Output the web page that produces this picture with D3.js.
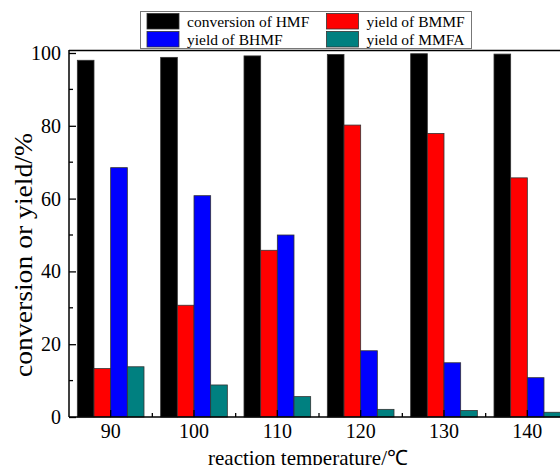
<!DOCTYPE html>
<html>
<head>
<meta charset="utf-8">
<script src="https://cdn.jsdelivr.net/npm/d3@7"></script>
<style>
  body { margin: 0; background: #fff; }
  text { font-family: "Liberation Serif", "Times New Roman", serif; }
</style>
</head>
<body>
<div id="chart"></div>
<script>
// Data
const temperatures = ["90", "100", "110", "120", "130", "140"];
const seriesNames = ["conversion of HMF", "yield of BMMF", "yield of BHMF", "yield of MMFA"];
const conversionHMF = [98.0, 98.8, 99.2, 99.6, 99.8, 99.7];
const yieldBMMF = [13.3, 30.7, 45.8, 80.2, 77.9, 65.7];
const yieldBHMF = [68.5, 60.8, 50.0, 18.2, 14.9, 10.8];
const yieldMMFA = [13.8, 8.8, 5.6, 2.1, 1.8, 1.3];
const yTicks = [0, 20, 40, 60, 80, 100];
const yMinorTicks = [10, 30, 50, 70, 90];
const colors = ["#000000", "#ff0000", "#0000ff", "#008080"];

const width = 560;
const height = 465;
const margin = {left: 69, right: -9, top: 51, bottom: 48};

const svg = d3.select("#chart")
  .append("svg")
  .attr("width", width)
  .attr("height", height);

const allSeries = [conversionHMF, yieldBMMF, yieldBHMF, yieldMMFA];
const rows = temperatures.map((t, i) => ({
  t: t,
  vals: allSeries.map((s, j) => ({key: j, value: s[i]}))
}));

// scales
const xScale = d3.scaleBand()
  .domain(temperatures)
  .range([margin.left, width - margin.right]);

const xInner = d3.scaleBand()
  .domain(d3.range(seriesNames.length))
  .range([0, xScale.bandwidth() * 0.8]);

const yScale = d3.scaleLinear()
  .domain([0, 100])
  .range([height - margin.bottom, margin.top + 2]);

const plotBottom = height - margin.bottom;
const plotRight = width - margin.right;

// bars
const groups = svg.selectAll(".grp")
  .data(rows)
  .enter()
  .append("g")
    .attr("class", "grp")
    .attr("transform", d => `translate(${xScale(d.t) + xScale.bandwidth() * 0.1},0)`);

groups.selectAll("rect")
  .data(d => d.vals)
  .enter()
  .append("rect")
    .attr("x", d => xInner(d.key))
    .attr("y", d => yScale(d.value))
    .attr("width", xInner.bandwidth())
    .attr("height", d => plotBottom - yScale(d.value))
    .attr("fill", d => colors[d.key])
    .attr("stroke", "#333")
    .attr("stroke-width", 0.8);

// frame
svg.append("line")
  .attr("x1", margin.left).attr("x2", plotRight)
  .attr("y1", margin.top - 0.5).attr("y2", margin.top - 0.5)
  .attr("stroke", "#000").attr("stroke-width", 1.5);

// y axis, ticks pointing inside
const yAxis = svg.append("g")
  .attr("transform", `translate(${margin.left},0)`)
  .call(d3.axisLeft(yScale).tickValues(yTicks).tickSize(-7).tickPadding(8))
  .attr("font-size", "20px")
  .attr("font-family", "Liberation Serif");
yAxis.select(".domain").attr("d", `M0,${margin.top - 1}V${plotBottom}`).attr("stroke-width", 1.5);
yAxis.selectAll(".tick line").attr("stroke-width", 1.3);
yAxis.selectAll("text").attr("fill", "#000");

svg.append("g")
  .attr("transform", `translate(${margin.left},0)`)
  .selectAll("line")
  .data(yMinorTicks)
  .enter()
  .append("line")
    .attr("x1", 0).attr("x2", 4)
    .attr("y1", d => yScale(d)).attr("y2", d => yScale(d))
    .attr("stroke", "#000").attr("stroke-width", 1.3);

// x axis, ticks pointing inside
const xAxis = svg.append("g")
  .attr("transform", `translate(0,${plotBottom})`)
  .call(d3.axisBottom(xScale).tickSize(-7).tickPadding(7))
  .attr("font-size", "20px")
  .attr("font-family", "Liberation Serif");
xAxis.select(".domain").attr("d", `M${margin.left},0H${plotRight}`).attr("stroke-width", 1.5);
xAxis.selectAll(".tick line").attr("stroke-width", 1.3);
xAxis.selectAll("text").attr("fill", "#000");

// minor x ticks between categories
svg.append("g")
  .selectAll("line")
  .data(temperatures.slice(1))
  .enter()
  .append("line")
    .attr("x1", d => xScale(d)).attr("x2", d => xScale(d))
    .attr("y1", plotBottom).attr("y2", plotBottom - 4)
    .attr("stroke", "#000").attr("stroke-width", 1.3);

// axis titles
svg.append("text")
  .attr("transform", "translate(32,255) rotate(-90)")
  .attr("text-anchor", "middle")
  .attr("font-size", "26px")
  .attr("textLength", 244)
  .attr("lengthAdjust", "spacingAndGlyphs")
  .text("conversion or yield/%");

svg.append("text")
  .attr("x", 308)
  .attr("y", 465)
  .attr("text-anchor", "middle")
  .attr("font-size", "21px")
  .text("reaction temperature/℃");

// legend
const legend = svg.append("g");
legend.append("rect")
  .attr("x", 140.5).attr("y", 11.5)
  .attr("width", 331).attr("height", 37)
  .attr("fill", "#fff")
  .attr("stroke", "#777").attr("stroke-width", 1);

const legendPos = [
  {x: 147, y: 13.5},
  {x: 326.5, y: 13.5},
  {x: 147, y: 31.5},
  {x: 326.5, y: 31.5}
];

seriesNames.forEach((name, i) => {
  const p = legendPos[i];
  legend.append("rect")
    .attr("x", p.x).attr("y", p.y)
    .attr("width", 32).attr("height", 15.5)
    .attr("fill", colors[i])
    .attr("stroke", "#333").attr("stroke-width", 0.8);
  legend.append("text")
    .attr("x", p.x + 40).attr("y", p.y + 13)
    .attr("font-size", "15.5px")
    .text(name);
});
</script>
</body>
</html>
